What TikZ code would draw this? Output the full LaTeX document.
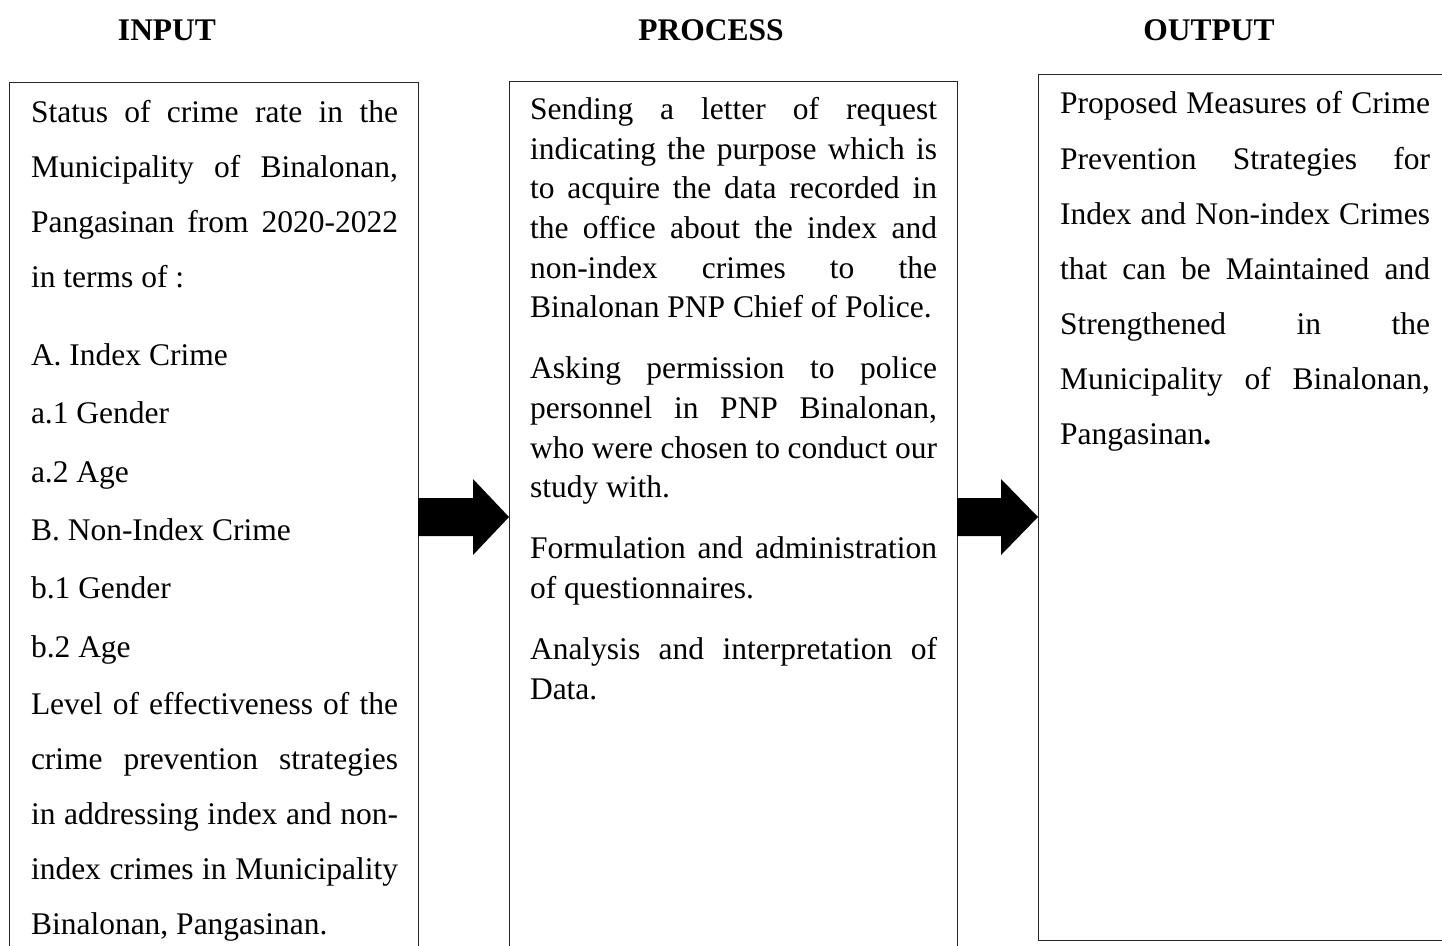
\documentclass[tikz,border=0pt]{standalone}
\usepackage{fontspec}
\setmainfont{Liberation Serif}
\usetikzlibrary{calc}
\newcommand\bodyfont{\fontsize{31.5}{38}\selectfont}
\newcommand\headfont{\fontsize{31.5}{38}\selectfont\bfseries}
\newcommand\jl[2]{\makebox[#1][s]{#2}}
\tikzset{
  box/.style={draw=black!85, line width=0.9pt, inner sep=0pt, outer sep=0pt, anchor=north west},
  txt/.style={anchor=base west, inner sep=0pt, outer sep=0pt, font=\bodyfont},
  head/.style={anchor=base, inner sep=0pt, outer sep=0pt, font=\headfont},
  blockarrow/.style={fill=black, draw=none},
}
\begin{document}
\begin{tikzpicture}[x=1pt, y=-1pt]
\clip (0,0) rectangle (1442,945);
\fill[white] (0,0) rectangle (1442,945);

% headers
\node[head] (hin) at (167,40) {INPUT};
\node[head] (hpr) at (711,40) {PROCESS};
\node[head] (hout) at (1209,40) {OUTPUT};

% boxes
\node[box, minimum width=409pt, minimum height=900pt] (in) at (9,82) {};
\node[box, minimum width=448pt, minimum height=900pt] (proc) at (509,81) {};
\node[box, minimum width=420pt, minimum height=866pt] (out) at (1038,74) {};

% arrows
\fill[blockarrow] let \p1=(in.east), \p2=(proc.west) in
  (\x1,498) -- (\x2-36pt,498) -- (\x2-36pt,479) -- (\x2,517) -- (\x2-36pt,555) -- (\x2-36pt,536) -- (\x1,536) -- cycle;
\fill[blockarrow] let \p1=(proc.east), \p2=(out.west) in
  (\x1,498) -- (\x2-37pt,498) -- (\x2-37pt,479) -- (\x2,517) -- (\x2-37pt,555) -- (\x2-37pt,536) -- (\x1,536) -- cycle;

% input text
\node[txt] (i1) at (31,122.3) {\jl{367pt}{Status of crime rate in the}};
\node[txt] (i2) at (31,177.3) {\jl{367pt}{Municipality of Binalonan,}};
\node[txt] (i3) at (31,232) {\jl{367pt}{Pangasinan from 2020-2022}};
\node[txt] (i4) at (31,287) {in terms of :};
\node[txt] (i5) at (31,365) {A. Index Crime};
\node[txt] (i6) at (31,423) {a.1 Gender};
\node[txt] (i7) at (31,482) {a.2 Age};
\node[txt] (i8) at (31,540) {B. Non-Index Crime};
\node[txt] (i9) at (31,598) {b.1 Gender};
\node[txt] (i10) at (31,657) {b.2 Age};
\node[txt] (i11) at (31,714) {\jl{367pt}{Level of effectiveness of the}};
\node[txt] (i12) at (31,769) {\jl{367pt}{crime prevention strategies}};
\node[txt] (i13) at (31,824) {\jl{367pt}{in addressing index and non-}};
\node[txt] (i14) at (31,879) {\jl{367pt}{index crimes in Municipality}};
\node[txt] (i15) at (31,934) {Binalonan, Pangasinan.};

% process text
\node[txt] (p1) at (530,119.3) {\jl{407pt}{Sending a letter of request}};
\node[txt] (p2) at (530,159) {\jl{407pt}{indicating the purpose which is}};
\node[txt] (p3) at (530,198.7) {\jl{407pt}{to acquire the data recorded in}};
\node[txt] (p4) at (530,238.4) {\jl{407pt}{the office about the index and}};
\node[txt] (p5) at (530,278) {\jl{407pt}{non-index crimes to the}};
\node[txt] (p6) at (530,317.7) {Binalonan PNP Chief of Police.};
\node[txt] (p7) at (530,378.7) {\jl{407pt}{Asking permission to police}};
\node[txt] (p8) at (530,418.4) {\jl{407pt}{personnel in PNP Binalonan,}};
\node[txt] (p9) at (530,458.1) {\jl{407pt}{who were chosen to conduct our}};
\node[txt] (p10) at (530,497.8) {study with.};
\node[txt] (p11) at (530,558.8) {\jl{407pt}{Formulation and administration}};
\node[txt] (p12) at (530,598.5) {of questionnaires.};
\node[txt] (p13) at (530,659.5) {\jl{407pt}{Analysis and interpretation of}};
\node[txt] (p14) at (530,699.2) {Data.};

% output text
\node[txt] (o1) at (1060,113.3) {\jl{370pt}{Proposed Measures of Crime}};
\node[txt] (o2) at (1060,169) {\jl{370pt}{Prevention Strategies for}};
\node[txt] (o3) at (1060,224.3) {\jl{370pt}{Index and Non-index Crimes}};
\node[txt] (o4) at (1060,279.3) {\jl{370pt}{that can be Maintained and}};
\node[txt] (o5) at (1060,334) {\jl{370pt}{Strengthened in the}};
\node[txt] (o6) at (1060,389.3) {\jl{370pt}{Municipality of Binalonan,}};
\node[txt] (o7) at (1060,444.3) {Pangasinan\textbf{.}};
\end{tikzpicture}
\end{document}
